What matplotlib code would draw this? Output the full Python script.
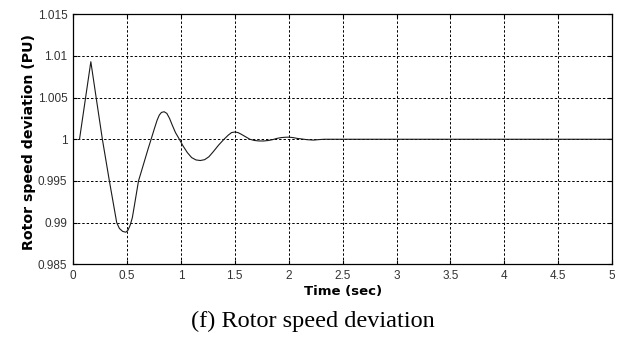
import numpy as np
import matplotlib
matplotlib.use("Agg")
import matplotlib.pyplot as plt

# rotor speed response (time in s, speed in PU)
t = [0.06, 0.165, 0.22, 0.272, 0.337, 0.405, 0.43, 0.46, 0.49, 0.51, 0.53,
     0.55, 0.58, 0.607, 0.635, 0.665, 0.695, 0.724, 0.755, 0.78, 0.80, 0.82,
     0.845, 0.87, 0.895, 0.92, 0.95, 0.986, 1.02, 1.06, 1.10, 1.14, 1.18,
     1.22, 1.26, 1.30, 1.35, 1.40, 1.44, 1.47, 1.50, 1.53, 1.56, 1.60, 1.64,
     1.68, 1.72, 1.765, 1.81, 1.85, 1.89, 1.93, 1.97, 2.0, 2.04, 2.08, 2.13,
     2.17, 2.23, 2.28, 2.33, 5.0]
speed = [1.0, 1.0093, 1.0045, 1.0, 0.995, 0.990, 0.9893, 0.98895, 0.98885, 0.9891, 0.9897,
         0.9906, 0.9929, 0.995, 0.9962, 0.9975, 0.9988, 1.0, 1.0013, 1.0023, 1.0029, 1.00322,
         1.0033, 1.0031, 1.0025, 1.0017, 1.0008, 1.0, 0.9992, 0.9984, 0.9978, 0.99752, 0.99745,
         0.99755, 0.9979, 0.9985, 0.9993, 1.0, 1.0005, 1.0008, 1.00087, 1.0008, 1.0006, 1.0003, 1.0,
         0.99986, 0.9998, 0.99979, 0.99985, 0.99995, 1.0001, 1.0002, 1.00024, 1.00025, 1.0002, 1.0001, 1.00002,
         0.99995, 0.9999, 0.99996, 1.0, 1.0]

xticks = [0, 0.5, 1, 1.5, 2, 2.5, 3, 3.5, 4, 4.5, 5]
xticklabels = ["0", "0.5", "1", "1.5", "2", "2.5", "3", "3.5", "4", "4.5", "5"]
yticks = [0.985, 0.99, 0.995, 1.0, 1.005, 1.01, 1.015]
yticklabels = ["0.985", "0.99", "0.995", "1", "1.005", "1.01", "1.015"]

fig = plt.figure(figsize=(6.19, 3.38), dpi=100)
ax = fig.add_axes([0.118, 0.218, 0.871, 0.740])

ax.plot(t, speed, color="#1a1a1a", linewidth=0.8)

ax.set_xlim(0, 5)
ax.set_ylim(0.985, 1.015)
ax.set_xticks(xticks)
ax.set_xticklabels(xticklabels)
ax.set_yticks(yticks)
ax.set_yticklabels(yticklabels)
ax.tick_params(direction="in", length=3, width=0.8, top=True, right=True,
               labelsize=8.5, labelcolor="#333333", pad=4)
for lab in ax.get_xticklabels() + ax.get_yticklabels():
    lab.set_family("Liberation Sans")
ax.grid(True, color="black", linestyle=(0, (2.5, 2)), linewidth=0.7)
for sp in ax.spines.values():
    sp.set_linewidth(0.9)

ax.set_xlabel("Time (sec)", fontsize=9.5, fontweight="bold", labelpad=2)
ax.set_ylabel("Rotor speed deviation (PU)", fontsize=10.2, fontweight="bold",
              va="center")
ax.yaxis.set_label_coords(-0.081, 0.49)

fig.text(0.505, 0.05, "(f) Rotor speed deviation", family="Liberation Serif",
         fontsize=17.5, ha="center", va="center")

fig.savefig("out.png", dpi=100)
